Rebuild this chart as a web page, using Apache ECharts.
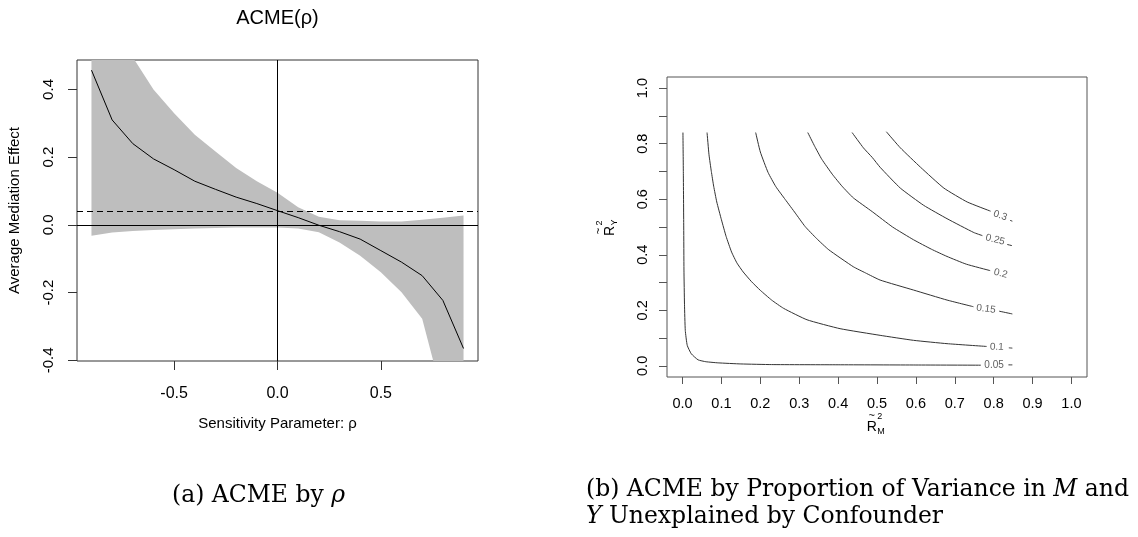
<!DOCTYPE html>
<html>
<head>
<meta charset="utf-8">
<script src="https://cdn.jsdelivr.net/npm/echarts@6/dist/echarts.min.js"></script>
<style>
  html, body { margin: 0; padding: 0; background: #fff; }
  #chart { width: 1138px; height: 537px; }
</style>
</head>
<body>
<div id="chart"></div>
<script>
// ---- Panel (a): ACME as a function of the sensitivity parameter rho ----
const rho = [-0.9, -0.8, -0.7, -0.6, -0.5, -0.4, -0.3, -0.2, -0.1, 0.0,
             0.1, 0.2, 0.3, 0.4, 0.5, 0.6, 0.7, 0.8, 0.9];
const acmeEst = [0.457, 0.31, 0.24, 0.195, 0.163, 0.129, 0.105, 0.082, 0.063, 0.042,
                 0.0215, -0.001, -0.02, -0.042, -0.076, -0.11, -0.15, -0.223, -0.365];
const ciUpper = [0.95, 0.68, 0.495, 0.4, 0.33, 0.266, 0.217, 0.168, 0.129, 0.095,
                 0.052, 0.024, 0.014, 0.012, 0.01, 0.01, 0.015, 0.021, 0.028];
const ciLower = [-0.032, -0.0225, -0.018, -0.015, -0.013, -0.011, -0.009, -0.008, -0.008, -0.008,
                 -0.011, -0.022, -0.052, -0.091, -0.14, -0.199, -0.277, -0.51, -0.8];
const observedAcme = 0.043;   // dashed reference
const zeroLevel = 0;
const rhoTicks = [-0.5, 0, 0.5];
const acmeTicks = [-0.4, -0.2, 0, 0.2, 0.4];

// ---- Panel (b): ACME contours over R~2_M and R~2_Y ----
const contour005 = [[0.001, 0.84], [0.002, 0.70], [0.003, 0.50], [0.0036, 0.345], [0.005, 0.22],
  [0.007, 0.128], [0.012, 0.074], [0.0225, 0.0435], [0.04, 0.0217], [0.06, 0.015], [0.0915, 0.0109],
  [0.15, 0.007], [0.229, 0.0047], [0.4, 0.004], [0.6, 0.0032], [0.767, 0.0025]];
const contour005Tail = [[0.838, 0.0037], [0.848, 0.0036]];
const contour010 = [[0.063, 0.84], [0.068, 0.76], [0.074, 0.70], [0.08, 0.647], [0.088, 0.59],
  [0.1, 0.526], [0.112, 0.466], [0.126, 0.41], [0.14, 0.37], [0.156, 0.338], [0.1775, 0.303],
  [0.2, 0.272], [0.229, 0.237], [0.26, 0.207], [0.32, 0.166], [0.405, 0.134], [0.508, 0.11],
  [0.594, 0.092], [0.68, 0.08], [0.782, 0.07]];
const contour010Tail = [[0.839, 0.065], [0.848, 0.064]];
const contour015 = [[0.188, 0.84], [0.2, 0.77], [0.22, 0.696], [0.24, 0.645], [0.264, 0.599],
  [0.29, 0.55], [0.315, 0.502], [0.345, 0.458], [0.376, 0.418], [0.439, 0.357], [0.47, 0.335],
  [0.508, 0.309], [0.594, 0.273], [0.68, 0.237], [0.748, 0.213]];
const contour015Tail = [[0.814, 0.197], [0.848, 0.187]];
const contour020 = [[0.322, 0.84], [0.34, 0.79], [0.358, 0.744], [0.385, 0.69], [0.41, 0.647],
  [0.439, 0.605], [0.488, 0.555], [0.54, 0.5], [0.594, 0.454], [0.64, 0.42], [0.68, 0.394],
  [0.73, 0.366], [0.791, 0.343]];
const contour025 = [[0.436, 0.84], [0.465, 0.785], [0.488, 0.75], [0.508, 0.715], [0.56, 0.64],
  [0.62, 0.578], [0.68, 0.53], [0.749, 0.48], [0.771, 0.469]];
const contour025Tail = [[0.835, 0.437], [0.847, 0.433]];
const contour030 = [[0.524, 0.843], [0.56, 0.785], [0.612, 0.715], [0.672, 0.64], [0.732, 0.59],
  [0.792, 0.557]];
const contour030Tail = [[0.842, 0.524], [0.848, 0.521]];
const contourLevels = ['0.3', '0.25', '0.2', '0.15', '0.1', '0.05'];
const contourLabelAt = [[0.817, 0.541], [0.804, 0.454], [0.818, 0.333], [0.78, 0.205], [0.808, 0.068], [0.801, 0.004]];
const r2Ticks = [0, 0.1, 0.2, 0.3, 0.4, 0.5, 0.6, 0.7, 0.8, 0.9, 1.0];

// ---- styling ----
const SANS = '"Liberation Sans", Arial, sans-serif';
const SERIF = '"DejaVu Serif", serif';
const labelAngles = [-18, -14, -14, -7, -3, 0];

const chart = echarts.init(document.getElementById('chart'), null, { renderer: 'canvas' });

const contourLine = (data) => ({
  type: 'line', xAxisIndex: 1, yAxisIndex: 1, data: data,
  showSymbol: false, symbol: 'none', smooth: 0.15, silent: true,
  lineStyle: { color: '#333', width: 1 }
});

// superscript/subscript axis title: R with tilde, 2 above, subscript below
const r2Title = (sub) => [
  { type: 'text', style: { text: 'R', x: 0, y: -5, font: '14px ' + SANS, fill: '#000', textVerticalAlign: 'middle' } },
  { type: 'text', style: { text: '~', x: 5, y: -16, font: '11px ' + SANS, fill: '#000', textAlign: 'center', textVerticalAlign: 'middle' } },
  { type: 'text', style: { text: '2', x: 10.5, y: -15, font: '9px ' + SANS, fill: '#000', textVerticalAlign: 'middle' } },
  { type: 'text', style: { text: sub, x: 10.5, y: -0.5, font: '9px ' + SANS, fill: '#000', textVerticalAlign: 'middle' } }
];

const option = {
  animation: false,
  backgroundColor: '#fff',
  title: [
    { text: 'ACME(ρ)', left: 272.5, textAlign: 'center', top: 3,
      textStyle: { fontFamily: SANS, fontSize: 20, fontWeight: 'normal', color: '#000', lineHeight: 20 } },
    { text: '(a) ACME by {i|ρ}', left: 167, top: 477,
      textStyle: { fontFamily: SERIF, fontSize: 23.5, fontWeight: 'normal', color: '#000', lineHeight: 27,
        rich: { i: { fontFamily: SERIF, fontStyle: 'italic', fontSize: 23.5, color: '#000', lineHeight: 27 } } } },
    { text: '(b) ACME by Proportion of Variance in {i|M} and\n{i|Y} Unexplained by Confounder', left: 581, top: 472,
      textStyle: { fontFamily: SERIF, fontSize: 23.5, fontWeight: 'normal', color: '#000', lineHeight: 26.5,
        rich: { i: { fontFamily: SERIF, fontStyle: 'italic', fontSize: 23.5, color: '#000', lineHeight: 26.5 } } } }
  ],
  grid: [
    { left: 77, right: 660, top: 60, bottom: 176, show: true, borderColor: '#333', borderWidth: 1, backgroundColor: 'transparent' },
    { left: 667, right: 51, top: 77, bottom: 160, show: true, borderColor: '#555', borderWidth: 1, backgroundColor: 'transparent' }
  ],
  xAxis: [
    { type: 'value', gridIndex: 0, min: -0.97, max: 0.97,
      name: 'Sensitivity Parameter: ρ', nameLocation: 'middle', nameGap: 55,
      nameTextStyle: { fontFamily: SANS, fontSize: 15, color: '#000' },
      axisLine: { show: false, onZero: false },
      axisTick: { show: true, length: 9, customValues: rhoTicks, lineStyle: { color: '#333' } },
      axisLabel: { customValues: rhoTicks, margin: 25, fontFamily: SANS, fontSize: 16, color: '#000',
        formatter: v => v.toFixed(1) },
      splitLine: { show: false } },
    { type: 'value', gridIndex: 1, min: -0.04, max: 1.04,
      axisLine: { show: false, onZero: false },
      axisTick: { show: true, length: 7, customValues: r2Ticks, lineStyle: { color: '#555' } },
      axisLabel: { customValues: r2Ticks, margin: 19, fontFamily: SANS, fontSize: 14.5, color: '#000',
        formatter: v => v.toFixed(1) },
      splitLine: { show: false } }
  ],
  yAxis: [
    { type: 'value', gridIndex: 0, min: -0.402, max: 0.487,
      name: 'Average Mediation Effect', nameLocation: 'middle', nameGap: 55, nameRotate: 90,
      nameTextStyle: { fontFamily: SANS, fontSize: 15, color: '#000' },
      axisLine: { show: false, onZero: false },
      axisTick: { show: true, length: 9, customValues: acmeTicks, lineStyle: { color: '#333' } },
      axisLabel: { customValues: acmeTicks, rotate: 90, margin: 21, fontFamily: SANS, fontSize: 15, color: '#000',
        formatter: v => v.toFixed(1) },
      splitLine: { show: false } },
    { type: 'value', gridIndex: 1, min: -0.04, max: 1.04,
      axisLine: { show: false, onZero: false },
      axisTick: { show: true, length: 8, customValues: r2Ticks, lineStyle: { color: '#555' } },
      axisLabel: { customValues: r2Ticks.filter((v, i) => i % 2 === 0), rotate: 90, margin: 17,
        fontFamily: SANS, fontSize: 14.5, color: '#000', formatter: v => v.toFixed(1) },
      splitLine: { show: false } }
  ],
  graphic: [
    { type: 'group', x: 866.7, y: 431.7, silent: true, children: r2Title('M') },
    { type: 'group', x: 615, y: 236, rotation: Math.PI / 2, silent: true, children: r2Title('Y') }
  ],
  series: [
    // confidence band as one polygon: upper bound forward, lower bound back
    { type: 'custom', xAxisIndex: 0, yAxisIndex: 0, silent: true, clip: true, data: [[0, 0]],
      renderItem: (params, api) => {
        const pts = [];
        for (let i = 0; i < rho.length; i++) pts.push(api.coord([rho[i], ciUpper[i]]));
        for (let i = rho.length - 1; i >= 0; i--) pts.push(api.coord([rho[i], ciLower[i]]));
        const cs = params.coordSys;
        return {
          type: 'polygon', shape: { points: pts }, style: { fill: '#bebebe' },
          clipPath: { type: 'rect', shape: { x: cs.x, y: cs.y, width: cs.width, height: cs.height } }
        };
      } },
    // point estimate with reference lines
    { type: 'line', xAxisIndex: 0, yAxisIndex: 0, symbol: 'none', silent: true,
      data: rho.map((r, i) => [r, acmeEst[i]]), lineStyle: { color: '#000', width: 1 },
      markLine: { silent: true, symbol: 'none', label: { show: false }, animation: false,
        data: [
          { yAxis: zeroLevel, lineStyle: { color: '#000', width: 1, type: 'solid' } },
          { xAxis: zeroLevel, lineStyle: { color: '#000', width: 1, type: 'solid' } },
          { yAxis: observedAcme, lineStyle: { color: '#000', width: 1, type: [6, 4] } }
        ] } },
    // contour lines
    contourLine(contour005), contourLine(contour005Tail),
    contourLine(contour010), contourLine(contour010Tail),
    contourLine(contour015), contourLine(contour015Tail),
    contourLine(contour020),
    contourLine(contour025), contourLine(contour025Tail),
    contourLine(contour030), contourLine(contour030Tail),
    // contour level labels
    { type: 'scatter', xAxisIndex: 1, yAxisIndex: 1, symbolSize: 0, silent: true,
      data: contourLevels.map((lv, i) => ({
        value: [contourLabelAt[i][0], contourLabelAt[i][1]],
        label: { show: true, position: 'inside', formatter: lv, rotate: labelAngles[i],
          fontFamily: SANS, fontSize: 10, color: '#333' }
      })) }
  ]
};

chart.setOption(option);
</script>
</body>
</html>
